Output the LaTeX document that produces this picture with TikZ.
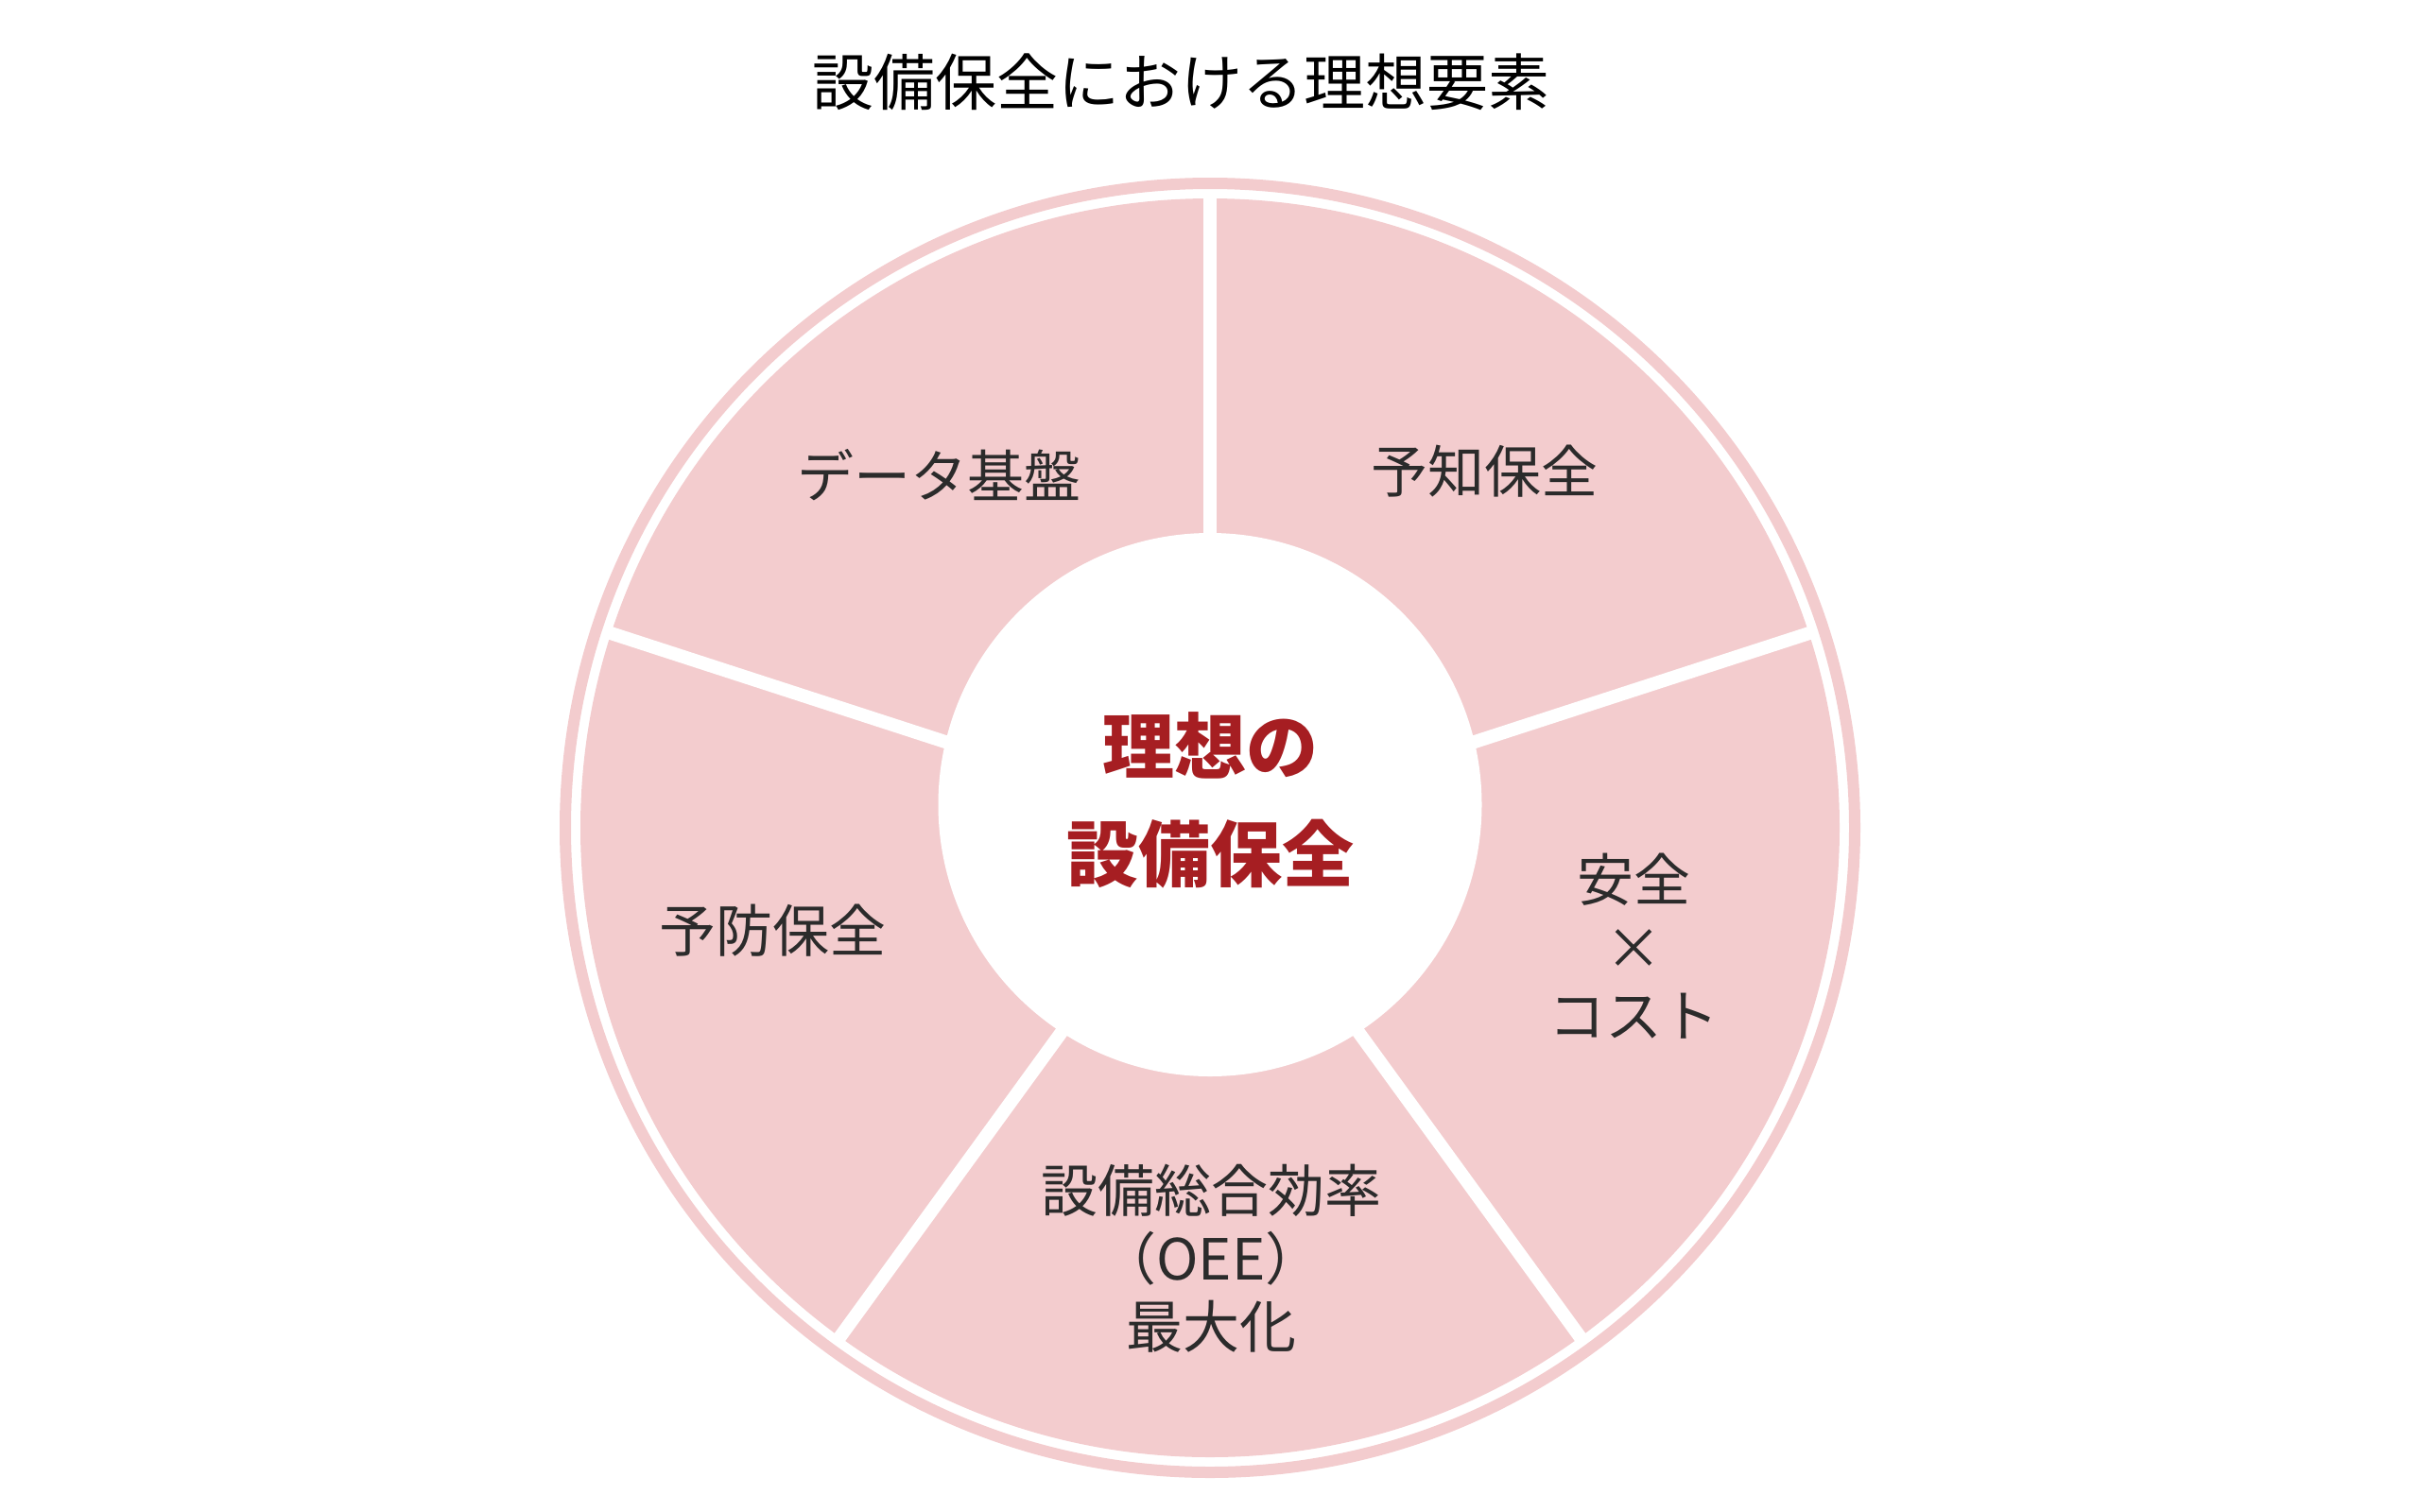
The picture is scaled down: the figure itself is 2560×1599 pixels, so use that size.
\documentclass[tikz,border=0pt]{standalone}
\usepackage{fontspec}
\setmainfont{Noto Sans CJK JP}
\definecolor{segpink}{HTML}{F3CCCE}
\definecolor{ctrred}{HTML}{A61E22}
\definecolor{txtgray}{HTML}{2B2B2B}
\begin{document}
\begin{tikzpicture}[x=1pt,y=-1pt,
  lbl/.style={text=txtgray, font=\fontsize{60}{72}\selectfont, align=center, inner sep=0pt},
  ttl/.style={text=black, font=\fontsize{65}{78}\selectfont, inner sep=0pt},
  ctr/.style={text=ctrred, font=\fontsize{76}{114}\selectfont\bfseries, align=center, inner sep=0pt},
  divider/.style={white, line width=14pt},
  ring/.style={segpink, line width=12pt}]
\useasboundingbox (0,0) rectangle (2560,1599);
\coordinate (c) at (1280,876);
\coordinate (ic) at (1280,851.5);
% donut sectors
\fill[segpink] (c) circle[radius=666];
\draw[ring] (c) circle[radius=682];
\foreach \a in {-90,-18,54,126,-162}
  \draw[divider] (c) -- ++(\a:672);
\fill[white] (ic) circle[radius=287.5];
% texts
\node[ttl] (title) at (1249,87) {設備保全における理想要素};
\node[ctr] (center) at (1280,847) {理想の\\設備保全};
\node[lbl] (data) at (993,503) {データ基盤};
\node[lbl] (yochi) at (1570,499) {予知保全};
\node[lbl] (yobo) at (817,985) {予防保全};
\node[lbl] (safety) at (1728,1001) {安全\\×\\コスト};
\node[lbl] (oee) at (1281,1332) {設備総合効率\\（OEE）\\最大化};
\end{tikzpicture}
\end{document}
